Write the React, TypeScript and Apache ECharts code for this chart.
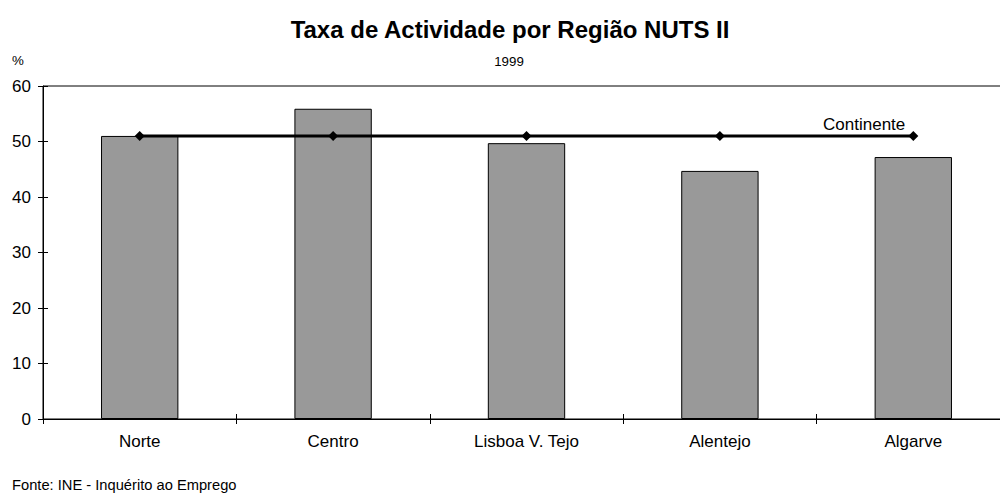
import React, { useEffect, useRef } from "react";
import * as echarts from "echarts";

const categories = ["Norte", "Centro", "Lisboa V. Tejo", "Alentejo", "Algarve"];
const regionValues = [51.0, 55.9, 49.7, 44.7, 47.2];
const continenteValues = [51.0, 51.0, 51.0, 51.0, 51.0];
const yTicks = [0, 10, 20, 30, 40, 50, 60];

const FONT = "Liberation Sans, Arial, sans-serif";

export default function App() {
  const ref = useRef<HTMLDivElement>(null);
  useEffect(() => {
    if (!ref.current) return;
    const chart = echarts.init(ref.current, null, { renderer: "svg" });
    const last = continenteValues.length - 1;
    const txt = (text: string, x: number, y: number, size: number, align: string, bold = false) => ({
      type: "text",
      x,
      y,
      style: {
        text,
        fontSize: size,
        fontFamily: FONT,
        fontWeight: bold ? "bold" : "normal",
        fill: "#000",
        align,
        verticalAlign: "middle",
      },
    });
    chart.setOption({
      animation: false,
      backgroundColor: "#fff",
      textStyle: { fontFamily: FONT },
      graphic: [
        txt("Taxa de Actividade por Região NUTS II", 510, 29, 24, "center", true),
        txt("1999", 509, 61, 13.3, "center"),
        txt("%", 12, 60, 13.3, "left"),
        txt("Fonte: INE - Inquérito ao Emprego", 12, 485, 14.7, "left"),
      ],
      grid: {
        left: 43,
        top: 86,
        width: 967,
        height: 333,
        show: true,
        borderColor: "#000",
        borderWidth: 1,
        backgroundColor: "transparent",
      },
      xAxis: [
        {
          type: "category",
          data: categories,
          boundaryGap: true,
          axisLine: { lineStyle: { color: "#000", width: 1 } },
          axisTick: { show: true, length: 5, lineStyle: { color: "#000" } },
          axisLabel: { color: "#000", fontSize: 17, fontFamily: FONT, margin: 14 },
        },
        {
          type: "category",
          data: categories,
          position: "bottom",
          boundaryGap: true,
          axisLine: { show: false },
          axisTick: { show: true, inside: true, length: 5, lineStyle: { color: "#000" } },
          axisLabel: { show: false },
        },
      ],
      yAxis: [
        {
          type: "value",
          min: yTicks[0],
          max: yTicks[yTicks.length - 1],
          interval: 10,
          axisLine: { show: true, lineStyle: { color: "#000", width: 1 } },
          axisTick: { show: true, length: 5, lineStyle: { color: "#000" } },
          axisLabel: { color: "#000", fontSize: 17, fontFamily: FONT, margin: 12 },
          splitLine: { show: false },
        },
        {
          type: "value",
          position: "left",
          min: yTicks[0],
          max: yTicks[yTicks.length - 1],
          interval: 10,
          axisLine: { show: false },
          axisTick: { show: true, inside: true, length: 5, lineStyle: { color: "#000" } },
          axisLabel: { show: false },
          splitLine: { show: false },
        },
      ],
      series: [
        {
          name: "Regiões",
          type: "bar",
          data: regionValues,
          barWidth: "40%",
          itemStyle: { color: "#999999", borderColor: "#000", borderWidth: 1 },
          z: 2,
        },
        {
          name: "Continente",
          type: "line",
          data: continenteValues.map((v, i) =>
            i === last
              ? {
                  value: v,
                  label: {
                    show: true,
                    formatter: "Continente",
                    position: "top",
                    align: "right",
                    distance: 0,
                    offset: [-8, 2],
                    color: "#000",
                    fontSize: 17,
                    fontFamily: FONT,
                  },
                }
              : v
          ),
          symbol: "diamond",
          symbolSize: 10,
          lineStyle: { color: "#000", width: 3 },
          itemStyle: { color: "#000" },
          z: 3,
        },
      ],
    });
    return () => chart.dispose();
  }, []);
  return (
    <div style={{ position: "absolute", left: 0, top: 0, width: 1000, height: 496, overflow: "hidden" }}>
      <div ref={ref} style={{ width: 1010, height: 496 }} />
    </div>
  );
}
